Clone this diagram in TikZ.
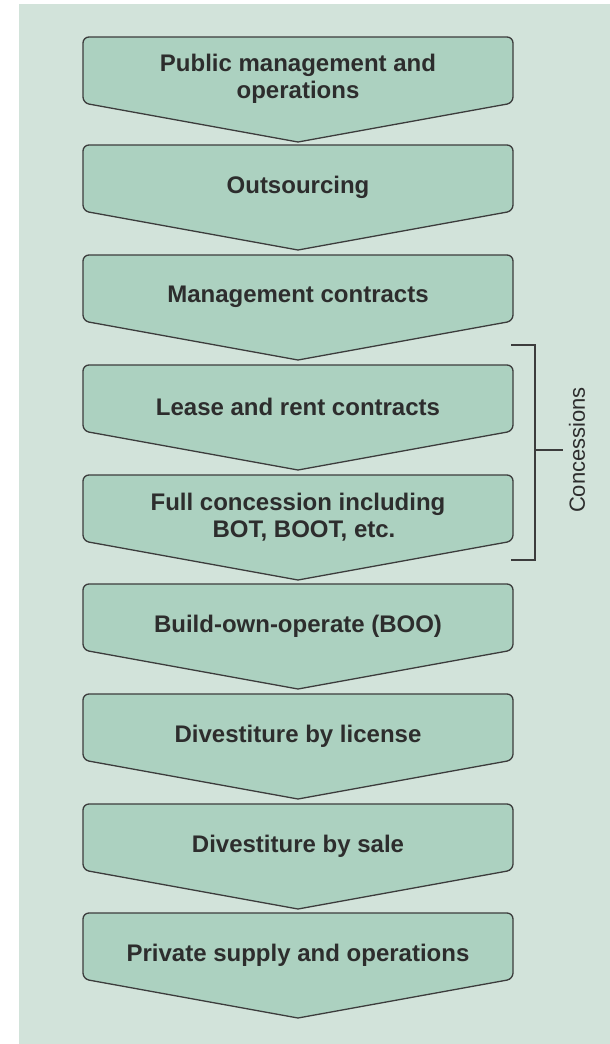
\documentclass[tikz,border=0pt]{standalone}
\usepackage{fontspec}
\setmainfont{Liberation Sans}
\definecolor{bgcol}{RGB}{210,227,218}
\definecolor{boxfill}{RGB}{172,209,192}
\definecolor{txtcol}{RGB}{45,45,45}
\definecolor{edgecol}{RGB}{60,60,60}
\tikzset{
  chevshape/.style={fill=boxfill, draw=edgecol, line width=1.3pt},
  lbl/.style={text=txtcol, font=\fontsize{24}{27}\selectfont\bfseries, align=center, inner sep=0pt},
  bracketline/.style={draw=edgecol, line width=1.4pt},
  sidelbl/.style={text=txtcol, font=\fontsize{22}{26}\selectfont, inner sep=0pt}
}
\newcommand\chevbox[3]{%
  \path[chevshape] (298,#1+105) [rounded corners=6pt] -- (83,#1+66) -- (83,#1) -- (513,#1) -- (513,#1+66) [sharp corners] -- cycle;
  \node[lbl] (#2) at (298,#1+42) {#3};
}
\begin{document}
\begin{tikzpicture}[x=1pt,y=-1pt]
\useasboundingbox (0,0) rectangle (610,1044);
\fill[white] (0,0) rectangle (610,1044);
\fill[bgcol] (19,4) rectangle (610,1044);
\chevbox{37}{b1}{Public management and\\operations}
\chevbox{145}{b2}{Outsourcing}
\chevbox{255}{b3}{Management contracts}
\chevbox{365}{b4}{Lease and rent contracts}
\chevbox{475}{b5}{Full concession including\\\hspace*{0.5em}BOT, BOOT, etc.}
\chevbox{584}{b6}{Build-own-operate (BOO)}
\chevbox{694}{b7}{Divestiture by license}
\chevbox{804}{b8}{Divestiture by sale}
\chevbox{913}{b9}{Private supply and operations}
\coordinate (brtop) at (511,345);
\coordinate (brbot) at (511,560);
\coordinate (brmid) at (535,450);
\coordinate (brtip) at (563,450);
\draw[bracketline] (brtop) -- (535,345) -- (535,560) -- (brbot);
\draw[bracketline] (brmid) -- (brtip);
\node[sidelbl, rotate=90] (conc) at (577,450) {Concessions};
\end{tikzpicture}
\end{document}
